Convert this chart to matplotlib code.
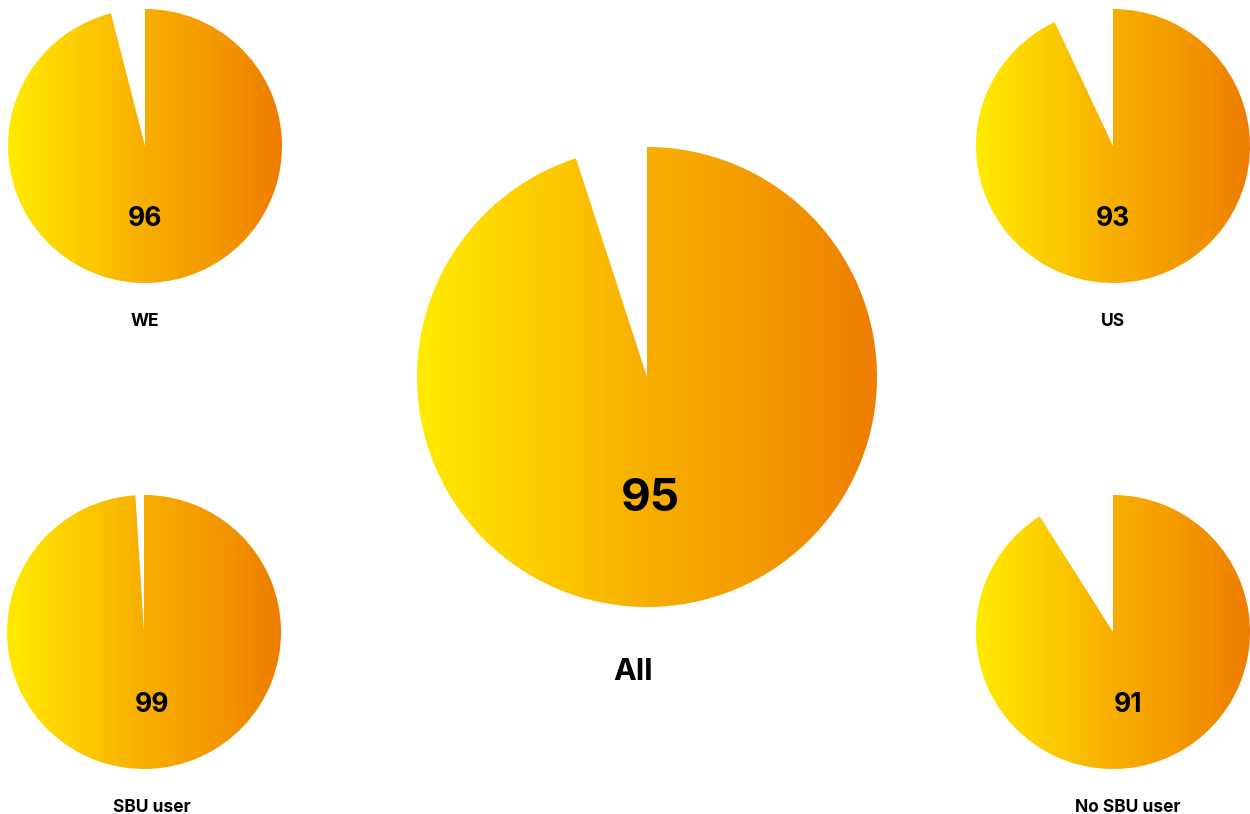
import numpy as np
import matplotlib
matplotlib.use("Agg")
import matplotlib.pyplot as plt
from matplotlib.patches import Wedge
from matplotlib.colors import LinearSegmentedColormap

# Data
labels = ["WE", "US", "All", "SBU user", "No SBU user"]
values = [96, 93, 95, 99, 91]

# Layout (pixel coords, y from top)
centers = [(145, 146), (1113, 146), (647, 377), (144, 632), (1113, 632)]
radii = [137, 137, 230, 137, 137]
num_pos = [(145, 219), (1113, 219), (650, 499), (152, 705), (1128, 705)]
lab_pos = [(145, 322), (1113, 322), (633, 672), (152, 807), (1128, 807)]
num_size = [19, 19, 33, 19, 19]
lab_size = [12.5, 12.5, 22, 12.5, 12.5]

W, H = 1250, 814
grad = LinearSegmentedColormap.from_list(
    "grad", ["#ffeb00", "#fdcd00", "#f8ae00", "#f39a00", "#ee7d00"])

plt.rcParams['font.family'] = ['Inter', 'DejaVu Sans']

fig = plt.figure(figsize=(W / 100, H / 100), dpi=100)
ax = fig.add_axes([0, 0, 1, 1])
ax.set_xlim(0, W)
ax.set_ylim(0, H)
ax.set_aspect('equal')
ax.axis('off')

g = np.linspace(0, 1, 256).reshape(1, -1)
for i in range(len(values)):
    cx, cy = centers[i]
    cy = H - cy
    r = radii[i]
    w = Wedge((cx, cy), r, 90 - values[i] * 3.6, 90, facecolor='none', edgecolor='none')
    ax.add_patch(w)
    im = ax.imshow(g, cmap=grad, extent=[cx - r, cx + r, cy - r, cy + r],
                   aspect='auto', interpolation='bilinear')
    im.set_clip_path(w)

    nx_, ny_ = num_pos[i]
    ax.text(nx_, H - ny_, str(values[i]), ha='center', va='center',
            fontsize=num_size[i], fontweight='bold', color='black')
    lx, ly = lab_pos[i]
    ax.text(lx, H - ly, labels[i], ha='center', va='center',
            fontsize=lab_size[i], fontweight='bold', color='black')

ax.set_xlim(0, W)
ax.set_ylim(0, H)
fig.savefig("out.png", dpi=100)
